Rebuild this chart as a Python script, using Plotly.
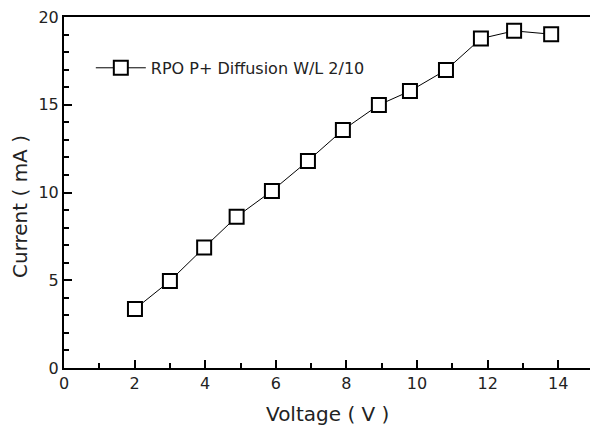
import plotly.graph_objects as go

voltage = [2.01, 3.0, 3.97, 4.89, 5.89, 6.91, 7.9, 8.92, 9.8, 10.82, 11.81, 12.75, 13.8]
current = [3.36, 4.96, 6.86, 8.62, 10.09, 11.8, 13.56, 14.99, 15.78, 16.98, 18.77, 19.21, 19.02]
series_name = "RPO P+ Diffusion W/L 2/10"
x_ticks = [0, 2, 4, 6, 8, 10, 12, 14]
y_ticks = [0, 5, 10, 15, 20]
x_title = "Voltage ( V )"
y_title = "Current ( mA )"

FONT = "DejaVu Sans, Liberation Sans, sans-serif"
TXT = "#222"

fig = go.Figure()
fig.add_trace(go.Scatter(
    x=voltage, y=current, mode="lines+markers", name=series_name,
    line=dict(color="black", width=1),
    marker=dict(symbol="square", size=14, color="white",
                line=dict(color="black", width=2)),
))

fig.update_layout(
    width=590, height=428,
    margin=dict(l=64, r=0, t=17, b=60, autoexpand=False),
    paper_bgcolor="white", plot_bgcolor="white",
    font=dict(family=FONT, size=15, color=TXT),
    showlegend=True,
    legend=dict(x=0.051, y=0.855, xanchor="left", yanchor="middle",
                bgcolor="rgba(0,0,0,0)", itemwidth=50,
                font=dict(family=FONT, size=16, color=TXT)),
    xaxis=dict(
        range=[0, 14.9], tickvals=x_ticks, ticktext=[str(v) for v in x_ticks],
        ticks="inside", ticklen=8, tickwidth=2, tickcolor="black",
        minor=dict(dtick=1, ticks="inside", ticklen=5, tickwidth=2, tickcolor="black"),
        showline=True, linecolor="black", linewidth=2, mirror=True,
        showgrid=False, zeroline=False, automargin=False,
        tickfont=dict(size=16, color=TXT),
    ),
    yaxis=dict(
        range=[0, 20], tickvals=y_ticks, ticktext=[str(v) for v in y_ticks],
        ticks="inside", ticklen=8, tickwidth=2, tickcolor="black",
        minor=dict(dtick=1, ticks="inside", ticklen=5, tickwidth=2, tickcolor="black"),
        showline=True, linecolor="black", linewidth=2, mirror=False,
        showgrid=False, zeroline=False, automargin=False,
        tickfont=dict(size=16, color=TXT),
    ),
    annotations=[
        dict(text=x_title, xref="paper", yref="paper", x=(327 - 64) / 526, y=-(414 - 368) / 351,
             xanchor="center", yanchor="middle", showarrow=False,
             font=dict(size=20, color=TXT)),
        dict(text=y_title, xref="paper", yref="paper", x=-(64 - 20) / 526, y=(368 - 207) / 351,
             xanchor="center", yanchor="middle", showarrow=False, textangle=-90,
             font=dict(size=20, color=TXT)),
    ],
)

fig.write_html("out.html", config={"displayModeBar": False},
               post_script="document.body.style.margin='0px';document.body.style.overflow='hidden';")
